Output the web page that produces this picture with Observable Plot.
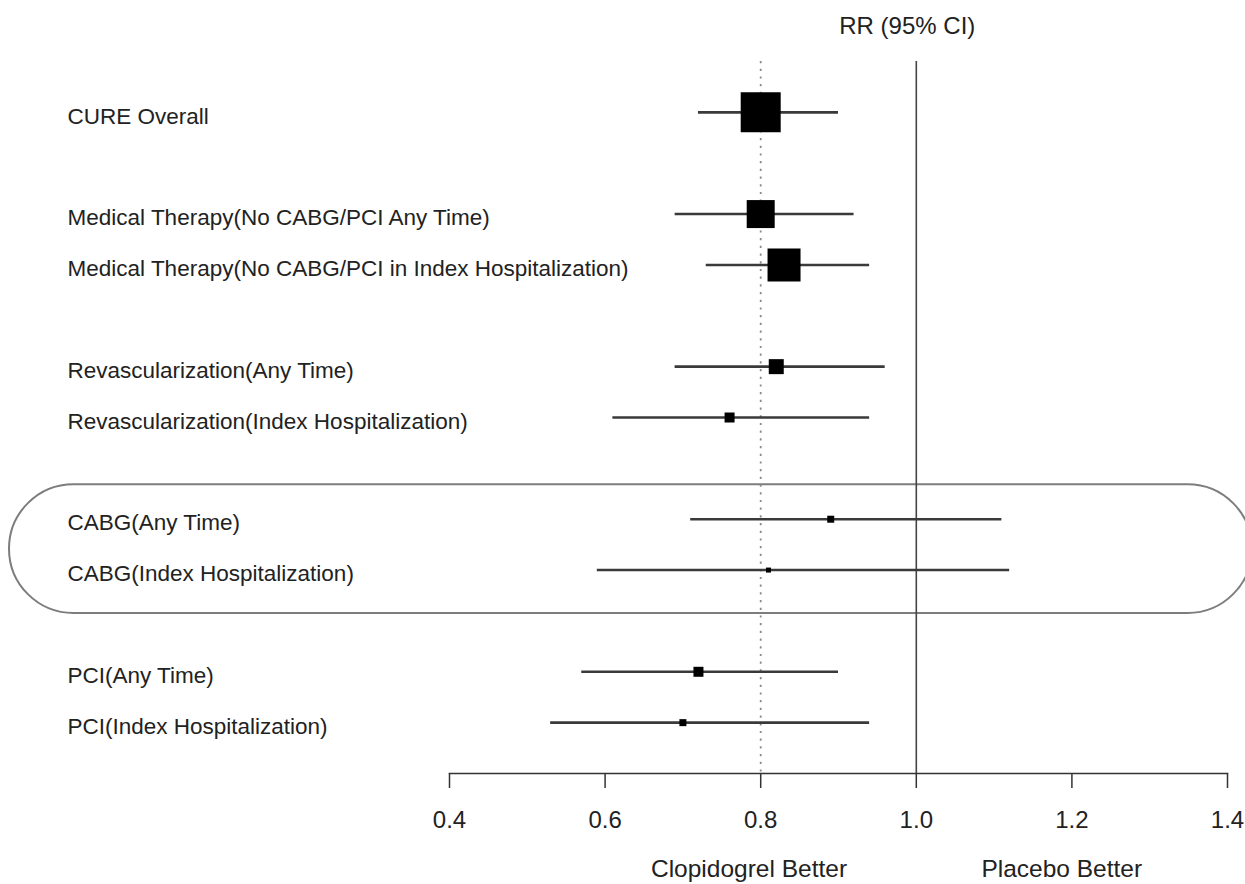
<!DOCTYPE html>
<html><head><meta charset="utf-8">
<script src="https://cdn.jsdelivr.net/npm/d3@7"></script>
<script src="https://cdn.jsdelivr.net/npm/@observablehq/plot@0.6"></script>
<style>body{margin:0;background:#fff}</style>
</head><body><div id="chart"></div>
<script>
// ---- data ----
const labels = [
  "CURE Overall",
  "Medical Therapy(No CABG/PCI Any Time)",
  "Medical Therapy(No CABG/PCI in Index Hospitalization)",
  "Revascularization(Any Time)",
  "Revascularization(Index Hospitalization)",
  "CABG(Any Time)",
  "CABG(Index Hospitalization)",
  "PCI(Any Time)",
  "PCI(Index Hospitalization)"
];
const groupOf = [0, 1, 1, 2, 2, 3, 3, 4, 4];
const rr     = [0.80, 0.80, 0.83, 0.82, 0.76, 0.89, 0.81, 0.72, 0.70];
const lower  = [0.72, 0.69, 0.73, 0.69, 0.61, 0.71, 0.59, 0.57, 0.53];
const upper  = [0.90, 0.92, 0.94, 0.96, 0.94, 1.11, 1.12, 0.90, 0.94];
const weight = [40, 28, 33, 15, 10, 7, 5, 10, 7];
const xTicks = [0.4, 0.6, 0.8, 1.0, 1.2, 1.4];
const refRR = 1.0;
const overallRR = 0.8;
const sideLabels = ["Clopidogrel Better", "Placebo Better"];
const sideX = [0.785, 1.187];
const highlighted = ["CABG(Any Time)", "CABG(Index Hospitalization)"];

// ---- table ----
const rows = labels.map((label, i) => ({label, group: groupOf[i], rr: rr[i], lo: lower[i], hi: upper[i], w: weight[i]}));
const domain = [];
rows.forEach((r, i) => {
  if (i > 0 && r.group !== rows[i - 1].group) domain.push(" ".repeat(r.group));
  domain.push(r.label);
});

const font = "'Liberation Sans', Arial, Helvetica, sans-serif";

const chart = Plot.plot({
  width: 1245,
  height: 884,
  marginLeft: 449,
  marginRight: 18,
  marginTop: 61,
  marginBottom: 111,
  style: {fontFamily: font, background: "#fff", color: "#222"},
  x: {domain: [0.4, 1.4]},
  y: {type: "band", domain, paddingInner: 0, paddingOuter: 0.5, round: false},
  r: {type: "linear", domain: [0, 40], range: [0, 40 / Math.sqrt(Math.PI)]},
  marks: [
    Plot.rect([highlighted], {
      y1: (d) => d[0], y2: (d) => d[1],
      insetTop: -9, insetBottom: -18, insetLeft: -440, insetRight: -25,
      rx: 64.5, fill: "none", stroke: "#7d7d7d", strokeWidth: 2
    }),
    Plot.ruleX([overallRR], {stroke: "#8a8a8a", strokeWidth: 1.8, strokeDasharray: "2.2,5.5"}),
    Plot.ruleX([refRR], {stroke: "#444", strokeWidth: 1.6}),
    Plot.ruleY(rows, {y: "label", x1: "lo", x2: "hi", stroke: "#3a3a3a", strokeWidth: 2.6}),
    Plot.dot(rows, {x: "rr", y: "label", r: "w", symbol: "square", fill: "#000", stroke: "none"}),
    Plot.frame({anchor: "bottom", stroke: "#333", strokeWidth: 1.5}),
    Plot.axisX({
      ticks: xTicks, tickFormat: d3.format(".1f"), tickSize: 15, tickPadding: 22,
      fontSize: 24, label: null, stroke: "#333", strokeWidth: 1.5, fill: "#222"
    }),
    Plot.axisY({
      tickSize: 0, tickPadding: 0, textAnchor: "start", dx: -382, dy: 4,
      fontSize: 22.5, label: null, fill: "#222"
    }),
    Plot.text(["RR (95% CI)"], {
      x: [refRR], frameAnchor: "top", lineAnchor: "bottom", dy: -28, dx: -9,
      fontSize: 24, fill: "#222"
    }),
    Plot.text(sideLabels, {
      x: sideX, frameAnchor: "bottom", lineAnchor: "bottom", dy: 103,
      fontSize: 24.5, fill: "#222"
    })
  ]
});
document.getElementById("chart").append(chart);
</script>
</body></html>
